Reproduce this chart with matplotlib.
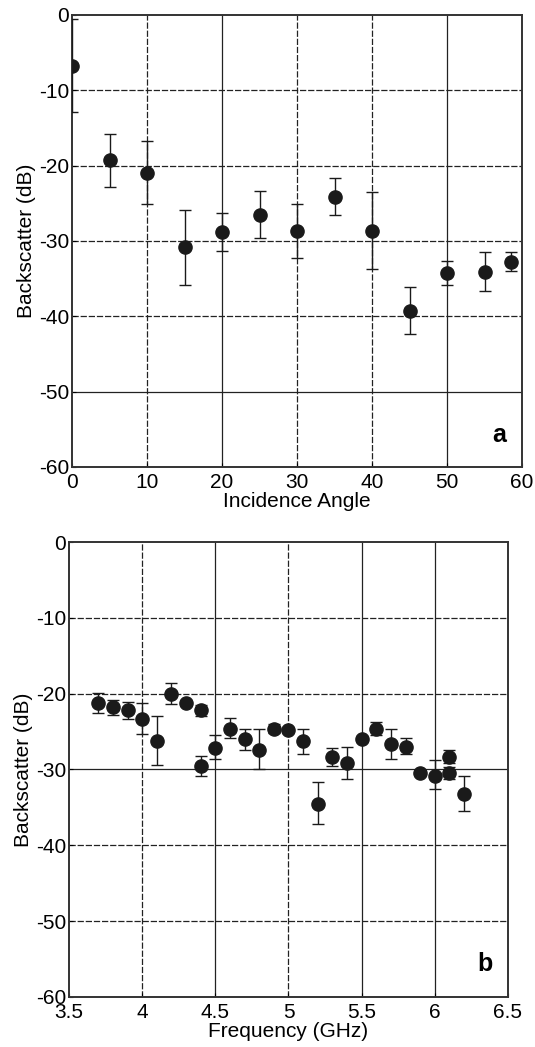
import matplotlib.pyplot as plt

plt.rcParams['font.family'] = ['Liberation Sans', 'DejaVu Sans']
plt.rcParams['axes.unicode_minus'] = False

# panel a: backscatter vs incidence angle
angle = [0, 5, 10, 15, 20, 25, 30, 35, 40, 45, 50, 55, 58.5]
bs_a = [-6.8, -19.3, -21.0, -30.8, -28.8, -26.6, -28.7, -24.2, -28.7, -39.3, -34.3, -34.1, -32.8]
up_a = [-0.5, -15.8, -16.7, -25.9, -26.3, -23.4, -25.1, -21.7, -23.5, -36.1, -32.7, -31.5, -31.5]
lo_a = [-12.9, -22.8, -25.1, -35.9, -31.3, -29.6, -32.2, -26.6, -33.7, -42.4, -35.9, -36.7, -34.0]

# panel b: backscatter vs frequency
freq = [3.7, 3.8, 3.9, 4.0, 4.1, 4.2, 4.3, 4.4, 4.4, 4.5, 4.6, 4.7, 4.8, 4.9, 5.0,
        5.1, 5.2, 5.3, 5.4, 5.5, 5.6, 5.7, 5.8, 5.9, 6.0, 6.1, 6.1, 6.2]
bs_b = [-21.2, -21.8, -22.2, -23.3, -26.3, -20.0, -21.2, -22.2, -29.6, -27.1, -24.6, -26.0,
        -27.4, -24.6, -24.8, -26.3, -34.5, -28.4, -29.2, -26.0, -24.6, -26.7, -27.0, -30.4,
        -30.8, -28.4, -30.5, -33.2]
up_b = [-19.9, -20.8, -21.1, -21.2, -23.0, -18.6, -21.0, -21.5, -28.2, -25.4, -23.2, -24.6,
        -24.6, -24.0, -24.6, -24.6, -31.7, -27.1, -27.0, -25.8, -23.7, -24.7, -25.9, -30.2,
        -28.8, -27.4, -29.7, -30.8]
lo_b = [-22.6, -22.8, -23.4, -25.3, -29.4, -21.3, -21.4, -23.0, -30.9, -28.6, -25.9, -27.4,
        -30.0, -25.2, -25.0, -28.0, -37.2, -29.5, -31.3, -26.2, -25.4, -28.6, -28.0, -30.6,
        -32.6, -29.2, -31.3, -35.5]


def draw(ax, x, y, up, lo, xlim, xticks, xlabel, tag, vdash, hdash):
    for xv in xticks[1:-1]:
        ax.axvline(xv, color='#222222', lw=0.9, zorder=1,
                   ls=(0, (5, 1.5)) if xv in vdash else '-')
    for yv in range(-50, 0, 10):
        ax.axhline(yv, color='#222222', lw=0.9, zorder=1,
                   ls=(0, (5, 1.5)) if yv in hdash else '-')
    yerr = [[b - l for b, l in zip(y, lo)], [u - b for b, u in zip(y, up)]]
    ax.errorbar(x, y, yerr=yerr, fmt='o', color='#1a1a1a', ms=9.5, elinewidth=1,
                capsize=4, capthick=1, zorder=3)
    ax.set_xlim(*xlim)
    ax.set_ylim(-60, 0)
    ax.set_xticks(xticks)
    ax.set_xticklabels([f'{t:g}' for t in xticks])
    ax.set_yticks(range(-60, 1, 10))
    ax.tick_params(direction='in', length=3, labelsize=15)
    ax.tick_params(axis='y', pad=2)
    ax.tick_params(axis='x', pad=4)
    for s in ax.spines.values():
        s.set_linewidth(1.4)
        s.set_color('#333333')
    ax.set_xlabel(xlabel, fontsize=15, labelpad=0)
    ax.set_ylabel('Backscatter (dB)', fontsize=15, labelpad=2)
    ax.text(0.965, 0.045, tag, transform=ax.transAxes, ha='right', va='bottom',
            fontsize=18, fontweight='bold')


fig = plt.figure(figsize=(5.35, 10.47), dpi=100)
ax1 = fig.add_axes([0.1346, 0.554, 0.8411, 0.4317])
ax2 = fig.add_axes([0.129, 0.0478, 0.8205, 0.4345])

draw(ax1, angle, bs_a, up_a, lo_a, (0, 60), [0, 10, 20, 30, 40, 50, 60],
     'Incidence Angle', 'a', vdash=[10, 30, 40], hdash=[-10, -20, -30, -40])
draw(ax2, freq, bs_b, up_b, lo_b, (3.5, 6.5), [3.5, 4, 4.5, 5, 5.5, 6, 6.5],
     'Frequency (GHz)', 'b', vdash=[4, 5], hdash=[-10, -20, -40, -50])

fig.savefig('out.png', dpi=100)
